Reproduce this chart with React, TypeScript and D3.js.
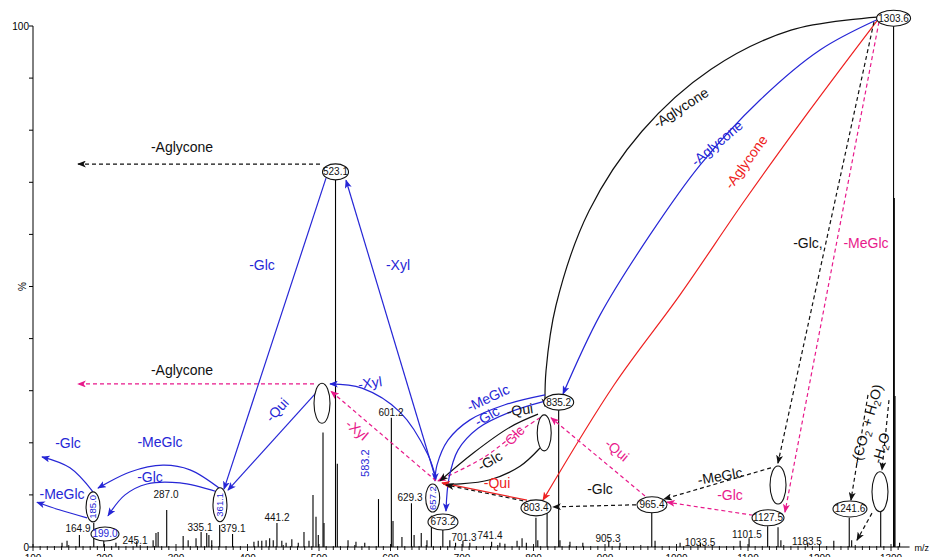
import React from "react";
import * as d3 from "d3";

// ---------- data ----------
const peakMz = [140.6, 147.6, 164.9, 185.0, 199.0, 216, 245.1, 268, 272, 275, 287.0, 310, 317, 328, 335.1, 343, 346, 350, 361.1, 379.1,
  409, 415, 420, 426, 431, 436, 441.2, 448, 454, 462, 471, 479, 486, 491.6, 495.8, 499, 505.6, 507, 523.1, 525.6,
  540.6, 551.7, 564, 583.2, 601.2, 603.5, 616, 629.3, 633, 643, 651, 657.2, 673.2, 683, 691, 701.3, 711, 741.4, 753,
  760, 777, 784, 790, 803.4, 806, 819, 835.2, 837, 851, 869, 905.3, 921, 965.4, 970, 1005, 1033.5, 1089, 1101.5,
  1127.5, 1142, 1146, 1183.5, 1220, 1241.6, 1245, 1285.6, 1303.6, 1304.6, 1305.6, 1312];
const peakInt = [0.8, 1.2, 2.3, 4.6, 1.2, 0.8, 1.1, 1.3, 2.7, 2.9, 7.1, 2.1, 1.3, 1.7, 2.9, 2.7, 2.3, 1.3, 4.2, 2.5,
  1.0, 1.2, 1.2, 1.3, 1.7, 1.3, 4.6, 1.2, 0.8, 1.5, 0.8, 2.9, 1.2, 10, 5.8, 2.3, 22, 4.6, 72, 16,
  1.3, 1.0, 0.8, 9.2, 24.8, 5, 1.9, 8.4, 2.3, 2.7, 1.3, 6.0, 3.3, 1.3, 0.8, 1.2, 0.8, 1.0, 0.8,
  0.6, 1.2, 1.7, 0.8, 5.6, 1.3, 6.5, 26.3, 1.3, 1.0, 0.8, 1.2, 0.8, 6.7, 1.2, 0.8, 0.8, 1.2, 1.7,
  4.0, 3.8, 1.3, 0.8, 1.2, 5.6, 1.3, 6.7, 100, 67, 29, 0.8];

const xTickLabels = [100, 200, 300, 400, 500, 600, 700, 800, 900, 1000, 1100, 1200, 1300];
const yTickValues = [0, 10, 20, 30, 40, 50, 60, 70, 80, 90, 100];
const yTickLabels = ["0", "100"];

// peak labels: text, m/z position, % position
const plText = ["164.9", "245.1", "287.0", "335.1", "379.1", "441.2", "601.2", "629.3", "701.3", "741.4", "905.3", "1033.5", "1101.5", "1183.5"];
const plMz = [162.9, 242.7, 286.0, 333.6, 379.7, 441.3, 600.7, 627.3, 702.8, 739.2, 904.2, 1032.9, 1098.6, 1182.5];
const plPct = [2.9, 0.6, 9.4, 3.1, 2.9, 5.0, 25.1, 8.8, 1.2, 1.5, 1.0, 0.2, 1.7, 0.4];

// ion nodes (ellipses)
const nodeLabel = ["1303.6", "523.1", "835.2", "", "", "657.2", "673.2", "803.4", "965.4", "", "1127.5", "1241.6", "", "361.1", "185.0", "199.0"];
const nodeMz = [1303.6, 523.1, 835.2, 504.2, 815, 659, 673.4, 803.5, 965.7, 1142, 1128, 1242.6, 1284.6, 361.5, 184, 200.7];
const nodePct = [101.5, 72.0, 27.8, 27.6, 21.9, 9.4, 4.8, 7.5, 8.1, 11.9, 5.6, 7.3, 10.6, 8.1, 7.7, 2.5];
const nodeBlue = [false, false, false, false, false, true, false, false, false, false, false, false, false, true, true, true];
const nodeVertical = [false, false, false, true, true, true, false, false, false, true, false, false, true, true, true, false];

// fragmentation arrows in data coordinates [m/z, %]
type Arrow = { pts: number[][]; c: string; dash?: boolean; head?: boolean };
const arrows: Arrow[] = [
  { c: "k", pts: [[1280.4, 101.7], [1160.1, 99.2], [1048.3, 91.7], [951.7, 79.8], [877.6, 64.5], [831.5, 46.4], [817.5, 33.8], [816.1, 27.0]] },
  { c: "b", pts: [[1280.4, 101.2], [1200.7, 95.4], [1116.8, 85.8], [1032.9, 73.3], [962.9, 59.9], [893.0, 44.5], [841.3, 29.4]] },
  { c: "r", pts: [[1280.4, 101.0], [1186.7, 83.9], [1095.8, 66.6], [1004.9, 48.4], [912.6, 31.1], [813.3, 9.0]] },
  { c: "k", dash: true, pts: [[1276.2, 100.8], [1141.9, 16.1]] },
  { c: "p", dash: true, pts: [[1283.2, 100.8], [1151.7, 6.7]] },
  { c: "k", dash: true, pts: [[1132.2, 15.2], [982.5, 9.2]] },
  { c: "p", dash: true, pts: [[1107.0, 6.1], [986.7, 8.6]] },
  { c: "k", dash: true, pts: [[943.4, 8.1], [827.3, 7.7]] },
  { c: "p", dash: true, pts: [[955.9, 9.8], [824.5, 24.8]] },
  { c: "p", dash: true, pts: [[809.1, 24.8], [776.9, 21.9], [729.4, 17.1], [666.4, 12.7]] },
  { c: "k", pts: [[806.3, 25.5], [767.1, 23.0], [715.4, 18.0], [669.2, 12.7]] },
  { c: "k", head: false, pts: [[809.1, 19.0], [781.1, 15.5], [739.2, 12.9], [697.2, 12.1], [673.4, 12.1]] },
  { c: "b", pts: [[816.1, 29.2], [760.1, 27.3], [711.2, 24.4], [680.4, 20.5], [665.0, 15.7], [662.2, 12.7]] },
  { c: "b", pts: [[816.1, 28.0], [767.1, 25.9], [722.4, 22.8], [694.4, 18.6], [681.8, 13.2], [677.6, 6.9]] },
  { c: "r", pts: [[790.9, 9.0], [672.0, 12.3]] },
  { c: "k", dash: true, pts: [[795.1, 8.6], [677.6, 11.9]] },
  { c: "b", pts: [[663.6, 12.9], [537.8, 70.4]] },
  { c: "b", pts: [[509.8, 70.8], [367.1, 11.1]] },
  { c: "b", pts: [[663.6, 13.1], [652.4, 17.7], [613.3, 25.9], [560.1, 30.5], [515.4, 31.3]] },
  { c: "p", dash: true, pts: [[663.6, 12.7], [516.8, 29.9]] },
  { c: "b", pts: [[495.8, 29.6], [372.7, 10.9]] },
  { c: "k", dash: true, pts: [[501.4, 73.5], [162.9, 73.5]] },
  { c: "p", dash: true, pts: [[493.0, 31.3], [162.9, 31.3]] },
  { c: "b", pts: [[364.3, 10.9], [319.6, 14.8], [281.8, 15.7], [235.7, 14.4], [190.9, 11.3]] },
  { c: "b", pts: [[357.3, 10.6], [305.6, 12.3], [259.4, 12.1], [228.7, 10.0], [204.9, 6.0]] },
  { c: "b", pts: [[183.9, 10.6], [151.7, 15.2], [112.6, 17.3]] },
  { c: "b", pts: [[175.5, 5.6], [137.8, 7.1], [105.6, 8.6]] },
  { c: "k", dash: true, pts: [[1267.8, 29.2], [1244.0, 9.0]] },
  { c: "k", dash: true, pts: [[1297.2, 28.2], [1287.4, 14.8]] },
  { c: "k", dash: true, pts: [[1273.4, 6.5], [1252.4, 1.3]] },
];

// annotation labels
const annText = ["-Aglycone", "-Aglycone", "-Aglycone", "-Glc,", "-MeGlc", "-MeGlc", "-Glc", "-Glc", "-Qui", "-Glc", "-Qui", "-Glc",
  "-MeGlc", "-Glc", "-Qui", "-Xyl", "-Glc", "-Xyl", "-Xyl", "-Qui", "-Aglycone", "-Aglycone", "-MeGlc", "-Glc", "-Glc", "-MeGlc", "583.2"];
const annMz = [1006.3, 1056.6, 1097.2, 1183.9, 1265.0, 1060.8, 1074.8, 893.0, 916.8, 771.3, 781.0, 739.2,
  736.4, 735.0, 749.0, 610.5, 420.3, 571.3, 553.1, 441.3, 308.4, 308.4, 277.6, 263.6, 148.9, 140.6, 564.2];
const annPct = [84.3, 77.5, 73.9, 58.3, 58.3, 13.6, 10.0, 11.1, 18.6, 21.1, 26.3, 16.5,
  28.6, 25.1, 12.3, 54.1, 54.1, 31.5, 22.5, 26.3, 76.8, 34.0, 20.2, 13.4, 20.0, 10.2, 16.1];
const annColor = ["k", "b", "r", "k", "p", "k", "p", "k", "p", "p", "k", "k",
  "b", "b", "r", "b", "b", "b", "p", "b", "k", "k", "b", "b", "b", "b", "b"];
const annAngle = [-33, -40, -54, 0, 0, -10, 0, 0, 40, -45, -8, -30,
  -25, -30, 0, 0, 0, -8, 40, -48, 0, 0, 0, 0, 0, 0, -90];

// ---------- layout ----------
const W = 938, H = 557;
const FONT = "'Liberation Sans', Arial, Helvetica, sans-serif";
const COL: Record<string, string> = { k: "#111111", b: "#2626d6", r: "#ee2020", p: "#e8198b" };
const x = d3.scaleLinear().domain([100, 1300]).range([33, 891]);
const y = d3.scaleLinear().domain([0, 100]).range([547, 26]);
const nodeSize = [[17, 8], [13, 8], [15, 8], [8, 20], [7, 18], [7, 14], [15, 8], [15, 8], [15, 8], [8, 19], [16, 8], [17, 8], [8, 20], [7, 17], [7, 15], [14, 7]];

const lineGen = d3.line<number[]>().x((d) => x(d[0])).y((d) => y(d[1])).curve(d3.curveCatmullRom.alpha(0.5));

export default function App() {
  const minor = d3.range(100, 1311, 10);
  return (
    <svg width={W} height={H} style={{ position: "absolute", left: 0, top: 0, background: "#fff" }} fontFamily={FONT}>
      <defs>
        {Object.keys(COL).map((k) => (
          <marker key={k} id={`ah-${k}`} viewBox="0 0 10 8" refX="9" refY="4" markerWidth="9" markerHeight="7" orient="auto" markerUnits="userSpaceOnUse">
            <path d="M0,0L10,4L0,8L2.5,4Z" fill={COL[k]} />
          </marker>
        ))}
      </defs>
      <rect width={W} height={H} fill="#fff" />

      {/* peaks */}
      {peakMz.map((m, i) => (
        <line key={"p" + i} x1={x(m)} x2={x(m)} y1={y(0)} y2={y(peakInt[i])} stroke="#000" strokeWidth={1.1} />
      ))}

      {/* arrows */}
      {arrows.map((a, i) => (
        <path key={"a" + i} d={lineGen(a.pts) || ""} fill="none" stroke={COL[a.c]} strokeWidth={1.2}
          strokeDasharray={a.dash ? "4 3" : undefined} markerEnd={a.head === false ? undefined : `url(#ah-${a.c})`} />
      ))}

      {/* nodes */}
      {nodeMz.map((m, i) => (
        <g key={"n" + i} transform={`translate(${x(m)},${y(nodePct[i])})`}>
          <ellipse rx={nodeSize[i][0]} ry={nodeSize[i][1]} fill="#fff" stroke="#111" strokeWidth={1.1} />
          {nodeLabel[i] && (
            <text transform={nodeVertical[i] ? "rotate(-90)" : undefined} textAnchor="middle" dy="0.35em" fontSize={nodeVertical[i] ? 9.5 : 10}
              fill={nodeBlue[i] ? COL.b : "#111"}>{nodeLabel[i]}</text>
          )}
        </g>
      ))}

      {/* annotation labels */}
      {annText.map((t, i) => (
        <text key={"l" + i} transform={`translate(${x(annMz[i])},${y(annPct[i])}) rotate(${annAngle[i]})`} textAnchor="middle" dy="0.35em"
          fontSize={t === "583.2" ? 11 : 14} fill={COL[annColor[i]]}>{t}</text>
      ))}
      <text transform={`translate(${x(1266)},${y(23.5)}) rotate(-74)`} textAnchor="middle" dy="0.35em" fontSize={14} fill="#111">
        <tspan>-(CO</tspan><tspan fontSize={10} dy={3}>2</tspan><tspan dy={-3}> + H</tspan><tspan fontSize={10} dy={3}>2</tspan><tspan dy={-3}>O)</tspan>
      </text>
      <text transform={`translate(${x(1286)},${y(19.0)}) rotate(-74)`} textAnchor="middle" dy="0.35em" fontSize={14} fill="#111">
        <tspan>-H</tspan><tspan fontSize={10} dy={3}>2</tspan><tspan dy={-3}>O</tspan>
      </text>

      {/* peak labels */}
      {plText.map((t, i) => (
        <text key={"pl" + i} x={x(plMz[i])} y={y(plPct[i])} textAnchor="middle" fontSize={10} fill="#111">{t}</text>
      ))}

      {/* axes */}
      <line x1={x(100)} x2={x(100)} y1={y(0)} y2={y(100)} stroke="#000" strokeWidth={1} />
      {yTickValues.map((v) => (
        <line key={"yt" + v} x1={x(100) - 4} x2={x(100)} y1={y(v)} y2={y(v)} stroke="#000" />
      ))}
      <text x={x(100) - 4} y={y(100)} dy="0.35em" textAnchor="end" fontSize={10}>{yTickLabels[1]}</text>
      <text x={x(100) - 4} y={y(0)} dy="0.35em" textAnchor="end" fontSize={10}>{yTickLabels[0]}</text>
      <text transform={`translate(${x(100) - 11},${y(50)}) rotate(-90)`} textAnchor="middle" dy="0.35em" fontSize={10}>%</text>

      <line x1={x(100)} x2={x(1326)} y1={y(0)} y2={y(0)} stroke="#000" strokeWidth={1} />
      {minor.map((v) => {
        const major = v % 100 === 0, mid = v % 50 === 0;
        return <line key={"xt" + v} x1={x(v)} x2={x(v)} y1={y(0) - (major ? 3 : mid ? 2 : 1)} y2={y(0) + (major ? 4 : 3)} stroke="#000" strokeWidth={0.9} />;
      })}
      {xTickLabels.map((v) => (
        <text key={"xl" + v} x={x(v)} y={y(0) + 15} textAnchor="middle" fontSize={10}>{v}</text>
      ))}
      <text x={x(1343)} y={y(0) + 4} textAnchor="middle" fontSize={9}>m/z</text>
    </svg>
  );
}
